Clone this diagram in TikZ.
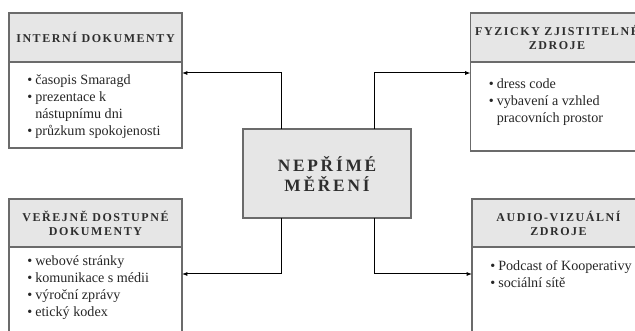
\documentclass[tikz,border=0pt]{standalone}
\usepackage{fontspec}
\usepackage{xcolor}
\usetikzlibrary{arrows.meta,positioning,calc}
\setmainfont{Liberation Serif}
\newfontfamily\capsfont[LetterSpace=13]{Liberation Serif}
\newfontfamily\midfont[LetterSpace=16]{Liberation Serif}
\definecolor{frm}{HTML}{6B6B6B}
\definecolor{hdfill}{HTML}{E6E6E6}
\definecolor{ink}{HTML}{2E2E2E}
\newcommand{\bl}{\makebox[6pt][l]{\textbullet}}
\newcommand{\ind}{\hspace*{6pt}}

\begin{document}
\begin{tikzpicture}[x=0.75pt,y=-0.75pt,>={Latex[length=4pt,width=3pt]},
  hd/.style={draw=frm,fill=hdfill,line width=0.9pt,outer sep=0pt,minimum width=129.75pt,
    align=center,text=ink,font=\capsfont\bfseries\fontsize{9}{10.5}\selectfont},
  bd/.style={draw=frm,fill=white,line width=0.9pt,outer sep=0pt,minimum width=129.75pt},
  lst/.style={anchor=north west,inner sep=0pt,align=left,text=black!85,
    font=\fontsize{10.6}{12.75}\selectfont},
  mid/.style={draw=frm,fill=hdfill,line width=0.9pt,outer sep=0pt,minimum width=126pt,
    minimum height=66.75pt,align=center,text=ink,font=\midfont\bfseries\fontsize{13}{15}\selectfont},
  arr/.style={->,line width=0.75pt,black}]
\clip (0,0) rectangle (635,331);
% centre
\path (327,173.5) coordinate (mc);
\node[mid] (mid) at (mc) {NEPŘÍMÉ\\MĚŘENÍ};
% top left
\node[hd,minimum height=36.75pt](h1) at (95.5,37.5){INTERNÍ DOKUMENTY};
\node[bd,below=0pt of h1,minimum height=64.5pt](b1){};
\node[lst](l1) at ([xshift=13.5pt,yshift=-7.7pt]b1.north west)
  {\strut\bl časopis Smaragd\\ \bl prezentace k\\ \ind nástupnímu dni\\ \bl průzkum spokojenosti};
% top right
\node[hd,minimum height=36.75pt](h2) at (557,37.5){FYZICKY ZJISTITELNÉ\\ZDROJE};
\node[bd,below=0pt of h2,minimum height=66.75pt](b2){};
\node[lst](l2) at ([xshift=13.5pt,yshift=-10.7pt]b2.north west)
  {\strut\bl dress code\\ \bl vybavení a vzhled\\ \ind pracovních prostor};
% bottom left
\node[hd,minimum height=36pt](h3) at (95.5,223){VEŘEJNĚ DOSTUPNÉ\\DOKUMENTY};
\node[bd,below=0pt of h3,minimum height=75pt](b3){};
\node[lst](l3) at ([xshift=13.5pt,yshift=-4.7pt]b3.north west)
  {\strut\bl webové stránky\\ \bl komunikace s médii\\ \bl výroční zprávy\\ \bl etický kodex};
% bottom right
\node[hd,minimum height=36pt](h4) at (558.5,223){AUDIO-VIZUÁLNÍ\\ZDROJE};
\node[bd,below=0pt of h4,minimum height=75pt](b4){};
\node[lst](l4) at ([xshift=13.5pt,yshift=-8.5pt]b4.north west)
  {\strut\bl Podcast of Kooperativy\\ \bl sociální sítě};
% links
\draw[arr]([xshift=-34.5pt]mid.north) |- ([yshift=-8.25pt]b1.north east);
\draw[arr]([xshift=35.25pt]mid.north) |- ([yshift=-8.25pt]b2.north west);
\draw[arr]([xshift=-34.5pt]mid.south) |- ([yshift=-20.25pt]b3.north east);
\draw[arr]([xshift=35.25pt]mid.south) |- ([yshift=-20.25pt]b4.north west);
\end{tikzpicture}
\end{document}
